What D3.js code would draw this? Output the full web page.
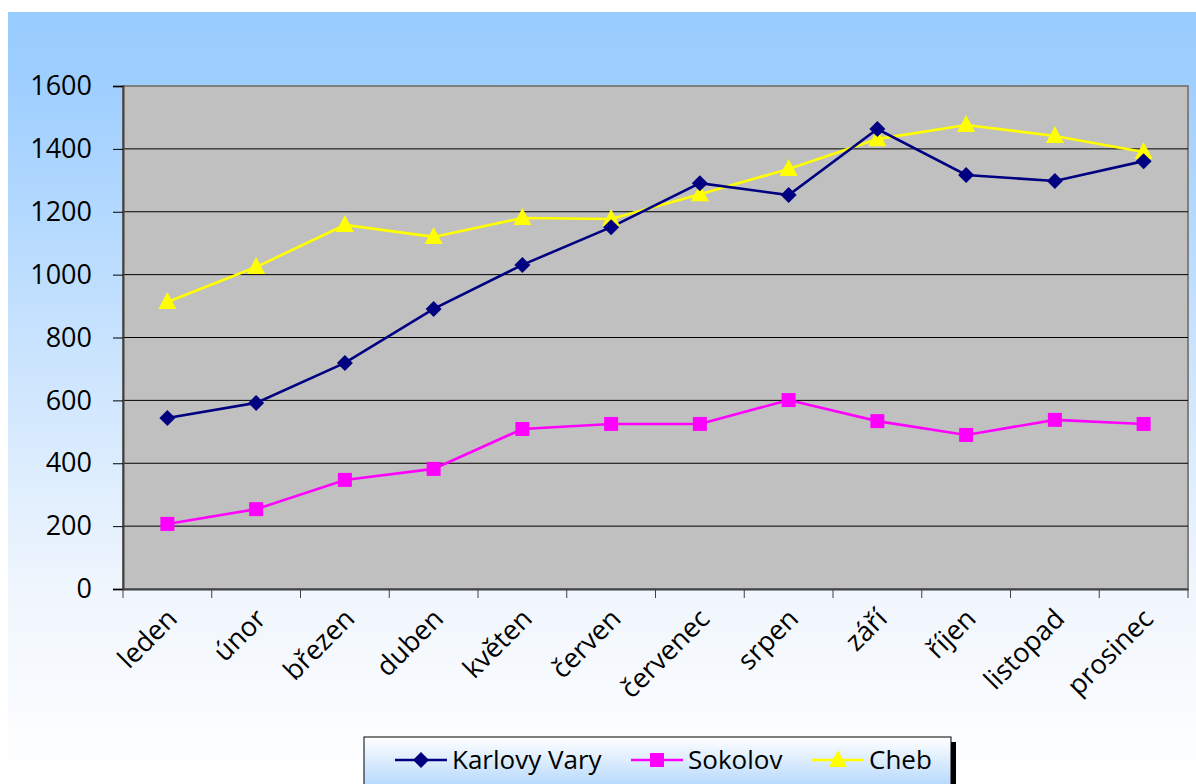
<!DOCTYPE html>
<html><head><meta charset="utf-8">
<script src="https://cdn.jsdelivr.net/npm/d3@7"></script>
<style>html,body{margin:0;padding:0;background:#fff;overflow:hidden}svg{display:block}</style>
</head><body>
<svg id="c" width="1196" height="784"></svg>
<script>
const months = ["leden","únor","březen","duben","květen","červen","červenec","srpen","září","říjen","listopad","prosinec"];
const karlovyVary = [544, 592, 719, 891, 1031, 1151, 1291, 1253, 1463, 1317, 1298, 1361];
const sokolov = [207, 254, 347, 382, 509, 525, 525, 601, 534, 490, 538, 525];
const cheb = [913, 1024, 1158, 1120, 1180, 1177, 1256, 1336, 1431, 1476, 1441, 1390];
const yTicks = [0, 200, 400, 600, 800, 1000, 1200, 1400, 1600];
const seriesNames = ["Karlovy Vary", "Sokolov", "Cheb"];

const FONT = "Open Sans, sans-serif";
const svg = d3.select("#c");
const defs = svg.append("defs");
const bg = defs.append("linearGradient").attr("id","bg").attr("x1",0).attr("y1",0).attr("x2",0).attr("y2",1);
bg.append("stop").attr("offset","0").attr("stop-color","#99ccff");
bg.append("stop").attr("offset","0.08").attr("stop-color","#9dceff");
bg.append("stop").attr("offset","0.75").attr("stop-color","#f0f6fd");
bg.append("stop").attr("offset","1").attr("stop-color","#ffffff");
const lg = defs.append("linearGradient").attr("id","lg").attr("x1",0).attr("y1",0).attr("x2",0).attr("y2",1);
lg.append("stop").attr("offset","0").attr("stop-color","#ffffff");
lg.append("stop").attr("offset","1").attr("stop-color","#a6d0fb");

svg.append("rect").attr("x",8).attr("y",12).attr("width",1188).attr("height",772).attr("fill","url(#bg)");

const L = 123, R = 1188, T = 86, B = 589;
const x = d3.scaleBand().domain(months).range([L, R]);
const y = d3.scaleLinear().domain([0,1600]).range([B, T]);

svg.append("rect").attr("x",L).attr("y",T).attr("width",R-L).attr("height",B-T)
  .attr("fill","#c0c0c0").attr("stroke","#808080").attr("stroke-width",2);

svg.append("g").selectAll("line").data(yTicks.filter(d=>d>0 && d<1600)).join("line")
  .attr("x1",L).attr("x2",R).attr("y1",d=>y(d)).attr("y2",d=>y(d))
  .attr("stroke","#000").attr("stroke-width",1);

const yAxis = svg.append("g").attr("transform",`translate(${L},0)`)
  .call(d3.axisLeft(y).tickValues(yTicks).tickSize(10).tickPadding(21).tickFormat(d3.format("d")));
yAxis.select(".domain").attr("stroke","#404040").attr("stroke-width",2);
yAxis.selectAll(".tick line").attr("stroke","#000");
yAxis.selectAll("text").attr("font-family",FONT).attr("font-size",27).attr("fill","#000");

const xAxis = svg.append("g").attr("transform",`translate(0,${B})`)
  .call(d3.axisBottom(x).tickSize(0).tickFormat(""));
xAxis.select(".domain").attr("stroke","#404040").attr("stroke-width",2);
const bounds = months.map(m=>x(m)).concat([R]);
svg.append("g").selectAll("line").data(bounds).join("line")
  .attr("x1",d=>d).attr("x2",d=>d).attr("y1",B).attr("y2",B+9).attr("stroke","#404040").attr("stroke-width",1);
svg.append("g").selectAll("text").data(months).join("text")
  .attr("transform",d=>`translate(${x(d)+x.bandwidth()/2-2},${B+18}) rotate(-45)`)
  .attr("text-anchor","end").attr("dy","0.7em")
  .attr("font-family",FONT).attr("font-size",27).attr("fill","#000")
  .text(d=>d);

const cx = d => x(d) + x.bandwidth()/2;
const line = d3.line().x((d,i)=>cx(months[i])).y(d=>y(d));

const diamond = "M0,-8L8,0L0,8L-8,0Z";
const square = "M-7,-7H7V7H-7Z";
const triangle = "M0,-10L9,7H-9Z";
const specs = [
  {name: seriesNames[0], data: karlovyVary, color:"#000080", path: diamond},
  {name: seriesNames[1], data: sokolov, color:"#ff00ff", path: square},
  {name: seriesNames[2], data: cheb, color:"#ffff00", path: triangle}
];
const drawOrder = [specs[2], specs[1], specs[0]];
drawOrder.forEach(s=>{
  svg.append("path").datum(s.data).attr("d",line).attr("fill","none").attr("stroke",s.color).attr("stroke-width",2.6);
});
drawOrder.forEach(s=>{
  svg.append("g").selectAll("path").data(s.data).join("path")
    .attr("transform",(d,i)=>`translate(${cx(months[i])},${y(d)})`)
    .attr("d",s.path).attr("fill",s.color);
});

const lgx = 364, lgy = 737, lgw = 587, lgh = 60;
svg.append("rect").attr("x",lgx+5).attr("y",lgy+5).attr("width",lgw).attr("height",lgh).attr("fill","#000");
svg.append("rect").attr("x",lgx).attr("y",lgy).attr("width",lgw).attr("height",lgh).attr("fill","url(#lg)").attr("stroke","#000").attr("stroke-width",1);
const legX = [395, 631, 812];
specs.forEach((s,i)=>{
  const g = svg.append("g").attr("transform",`translate(${legX[i]},${lgy+23})`);
  g.append("line").attr("x1",0).attr("x2",52).attr("stroke",s.color).attr("stroke-width",2.6);
  g.append("path").attr("transform","translate(26,0)").attr("d",s.path).attr("fill",s.color);
  g.append("text").attr("x",57).attr("dy","0.35em").attr("font-family",FONT).attr("font-size",26).attr("fill","#000").text(s.name);
});
</script>
</body></html>
